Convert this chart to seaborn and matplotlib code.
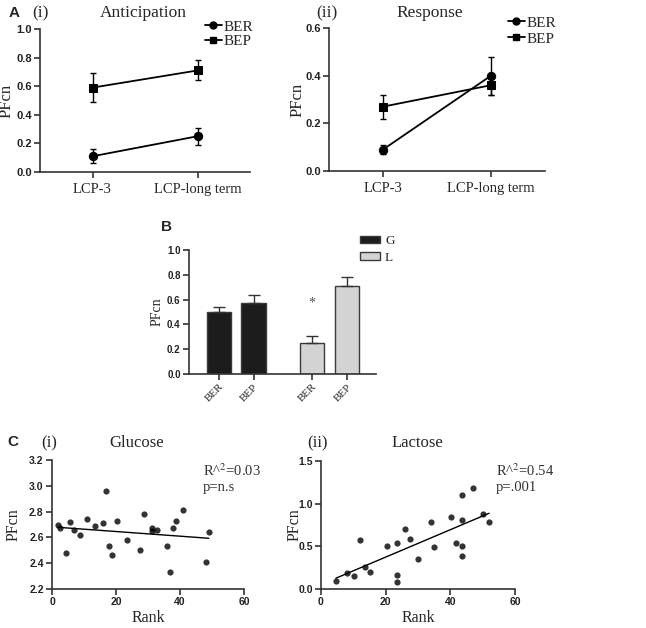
import numpy as np
import pandas as pd
import matplotlib
matplotlib.use('Agg')
import matplotlib.pyplot as plt
import seaborn as sns
from matplotlib.lines import Line2D
from matplotlib.patches import Patch

# ---- data ----
timepoints = ['LCP-3', 'LCP-long term']

antic_ber = [0.11, 0.25]
antic_ber_err = [0.05, 0.06]
antic_bep = [0.59, 0.71]
antic_bep_err = [0.10, 0.07]

resp_ber = [0.09, 0.40]
resp_ber_err = [0.02, 0.08]
resp_bep = [0.27, 0.36]
resp_bep_err = [0.05, 0.04]

bar_labels = ['BER', 'BEP', 'BER', 'BEP']
bar_sugar = ['G', 'G', 'L', 'L']
bar_vals = [0.50, 0.57, 0.25, 0.71]
bar_err = [0.04, 0.07, 0.06, 0.07]

glu_rank = [1.8, 2.6, 4.3, 5.7, 6.8, 8.6, 10.8, 13.3, 15.8, 16.9, 17.8, 18.9, 20.3,
            23.3, 27.4, 28.9, 31.4, 31.4, 32.8, 35.9, 36.9, 37.9, 38.9, 40.9, 48.0, 49.0]
glu_pfcn = [2.70, 2.67, 2.48, 2.72, 2.66, 2.62, 2.74, 2.69, 2.71, 2.96, 2.53, 2.46, 2.73,
            2.58, 2.50, 2.78, 2.67, 2.65, 2.66, 2.53, 2.33, 2.67, 2.73, 2.81, 2.41, 2.64]

lac_rank = [4.6, 8.1, 10.1, 12.0, 13.6, 15.0, 20.5, 23.5, 23.5, 23.5, 26.0, 27.5, 30.0,
            34.1, 35.0, 40.1, 41.9, 43.5, 43.5, 43.5, 43.5, 47.0, 50.0, 52.0]
lac_pfcn = [0.09, 0.19, 0.15, 0.58, 0.26, 0.20, 0.50, 0.535, 0.16, 0.08, 0.70, 0.59, 0.35,
            0.79, 0.49, 0.84, 0.54, 1.10, 0.81, 0.50, 0.39, 1.18, 0.88, 0.79]

# ---- style ----
sns.set_style('ticks')
plt.rcParams['font.family'] = ['Liberation Serif', 'DejaVu Serif']
plt.rcParams['mathtext.fontset'] = 'stix'
AX_COLOR = '#333333'
W, H = 646, 628

fig = plt.figure(figsize=(6.46, 6.28), dpi=100)


def box(left, right, top, bottom):
    return [left / W, 1 - bottom / H, (right - left) / W, (bottom - top) / H]


def style_ax(ax, yticks, fmt, tsize):
    sns.despine(ax=ax)
    for sp in ['left', 'bottom']:
        ax.spines[sp].set_linewidth(1.2)
        ax.spines[sp].set_color(AX_COLOR)
    ax.tick_params(direction='out', length=4, width=1.2, color=AX_COLOR, pad=2)
    ax.set_yticks(yticks)
    ax.set_yticklabels([fmt.format(v) for v in yticks], fontfamily='Liberation Sans',
                       fontweight='bold', fontsize=tsize, color='#222222')


def place_ylabel(ax, text, size, xpix):
    # xpix: right edge of the rotated label, in figure pixels
    ax.set_ylabel(text, fontsize=size)
    pos = ax.get_position()
    ax.yaxis.set_label_coords(xpix / W, pos.y0 + pos.height / 2, transform=fig.transFigure)


def line_panel(ax, ber, ber_err, bep, bep_err, ymax, yticks, ylab_x):
    df = pd.DataFrame({'pos': [0, 1, 0, 1], 'val': ber + bep,
                       'group': ['BER', 'BER', 'BEP', 'BEP']})
    sns.lineplot(data=df, x='pos', y='val', style='group', markers={'BER': 'o', 'BEP': 's'},
                 dashes=False, color='black', markersize=6, linewidth=1.3,
                 markeredgecolor='black', legend=False, ax=ax)
    ax.errorbar([0, 1], ber, yerr=ber_err, fmt='none', ecolor='black', elinewidth=1, capsize=2.5)
    ax.errorbar([0, 1], bep, yerr=bep_err, fmt='none', ecolor='black', elinewidth=1, capsize=2.5)
    ax.set_xlim(-0.5, 1.5)
    ax.set_ylim(0, ymax)
    style_ax(ax, yticks, '{:.1f}', 8)
    ax.set_xticks([0, 1])
    ax.set_xticklabels(timepoints, fontsize=10.5)
    ax.tick_params(axis='x', pad=4)
    ax.set_xlabel('')
    place_ylabel(ax, 'PFcn', 12, ylab_x)


def line_legend(ax, x, y, spacing):
    handles = [Line2D([], [], color='black', marker='o', lw=1.3, ms=5),
               Line2D([], [], color='black', marker='s', lw=1.3, ms=5)]
    ax.legend(handles, ['BER', 'BEP'], loc='upper left', bbox_to_anchor=(x / W, 1 - y / H),
              bbox_transform=fig.transFigure, frameon=False, handlelength=1.1,
              handletextpad=0.1, labelspacing=spacing, fontsize=11, borderpad=0, borderaxespad=0)


# ---- A (i) ----
ax1 = fig.add_axes(box(40, 250, 29, 172))
line_panel(ax1, antic_ber, antic_ber_err, antic_bep, antic_bep_err, 1.0,
           [0, 0.2, 0.4, 0.6, 0.8, 1.0], 15)
line_legend(ax1, 205, 20, 0.05)

# ---- A (ii) ----
ax2 = fig.add_axes(box(329, 545, 28, 171))
line_panel(ax2, resp_ber, resp_ber_err, resp_bep, resp_bep_err, 0.6, [0, 0.2, 0.4, 0.6], 306)
line_legend(ax2, 508, 16, 0.15)

# ---- B ----
ax3 = fig.add_axes(box(189, 376, 250, 374))
positions = [0, 1, 2.7, 3.7]
df_b = pd.DataFrame({'pos': positions, 'val': bar_vals, 'sugar': bar_sugar})
sns.barplot(data=df_b, x='pos', y='val', hue='sugar', palette={'G': '#1c1c1c', 'L': '#d3d3d3'},
            native_scale=True, dodge=False, width=0.7, edgecolor='#3a3a3a', linewidth=1,
            legend=False, ax=ax3)
ax3.errorbar(positions, bar_vals, yerr=[np.zeros(len(bar_err)), bar_err], fmt='none',
             ecolor='#333333', elinewidth=1, capsize=4)
ax3.set_xlim(-0.87, 4.55)
ax3.set_ylim(0, 1.0)
style_ax(ax3, [0, 0.2, 0.4, 0.6, 0.8, 1.0], '{:.1f}', 7)
ax3.set_xticks(positions)
ax3.set_xticklabels(bar_labels, rotation=45, ha='right', rotation_mode='anchor', fontsize=8)
ax3.set_xlabel('')
place_ylabel(ax3, 'PFcn', 10, 164)
ax3.text(positions[2], bar_vals[2] + bar_err[2] + 0.26, '*', ha='center', va='center',
         fontsize=10, color='#555555')
ax3.legend([Patch(facecolor='#1c1c1c', edgecolor='#3a3a3a'),
            Patch(facecolor='#d3d3d3', edgecolor='#3a3a3a')], ['G', 'L'],
           loc='upper left', bbox_to_anchor=(360 / W, 1 - 235 / H), bbox_transform=fig.transFigure,
           frameon=False, handlelength=1.5, handleheight=0.5, handletextpad=0.4,
           labelspacing=0.35, fontsize=9.5, borderpad=0, borderaxespad=0)


# ---- C ----
def scatter_panel(ax, x, y, ylim, yticks, fmt, ylab_x):
    sns.regplot(x=np.array(x), y=np.array(y), ci=None, color='black',
                scatter_kws={'s': 20, 'linewidths': 0}, line_kws={'lw': 1}, ax=ax)
    ax.set_xlim(0, 60)
    ax.set_ylim(*ylim)
    style_ax(ax, yticks, fmt, 7.5)
    ax.set_xticks([0, 20, 40, 60])
    ax.set_xticklabels(['0', '20', '40', '60'], fontfamily='Liberation Sans',
                       fontweight='bold', fontsize=7.5, color='#222222')
    ax.set_xlabel('Rank', fontsize=11.5, labelpad=2)
    place_ylabel(ax, 'PFcn', 11.5, ylab_x)


ax4 = fig.add_axes(box(52, 244, 460, 589))
scatter_panel(ax4, glu_rank, glu_pfcn, (2.2, 3.2), [2.2, 2.4, 2.6, 2.8, 3.0, 3.2], '{:.1f}', 22)

ax5 = fig.add_axes(box(321, 515, 461, 589))
scatter_panel(ax5, lac_rank, lac_pfcn, (0, 1.5), [0, 0.5, 1.0, 1.5], '{:.1f}', 303)

fig.text(203 / W, 1 - 471 / H, 'R^$^2$=0.03', fontsize=10.5, va='center', color='#333333')
fig.text(203 / W, 1 - 488 / H, 'p=n.s', fontsize=10.5, va='center', color='#333333')
fig.text(496 / W, 1 - 471 / H, 'R^$^2$=0.54', fontsize=10.5, va='center', color='#333333')
fig.text(496 / W, 1 - 488 / H, 'p=.001', fontsize=10.5, va='center', color='#333333')


# ---- panel letters and titles ----
def label(x, y, s, **kw):
    fig.text(x / W, 1 - y / H, s, ha='center', va='center', **kw)


bold = dict(fontfamily='Liberation Sans', fontweight='bold', fontsize=11)
label(14, 13, 'A', **bold)
label(167, 227, 'B', **bold)
label(13, 442, 'C', **bold)
label(40, 13, '(i)', fontsize=12.5)
label(143, 13, 'Anticipation', fontsize=12.5)
label(327, 13, '(ii)', fontsize=12.5)
label(430, 13, 'Response', fontsize=12.5)
label(49, 443, '(i)', fontsize=12)
label(137, 443, 'Glucose', fontsize=12)
label(318, 443, '(ii)', fontsize=12)
label(417, 443, 'Lactose', fontsize=12)

fig.savefig('out.png', dpi=100)
